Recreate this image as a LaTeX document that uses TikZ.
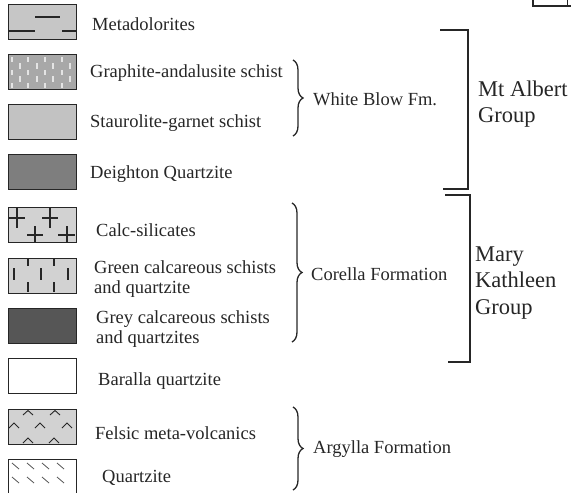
\documentclass[tikz,border=0pt]{standalone}
\usepackage{fontspec}
\setmainfont{Liberation Serif}
\usetikzlibrary{decorations.pathreplacing}
\definecolor{ink}{HTML}{262626}
\definecolor{fA}{HTML}{C6C6C6}
\definecolor{fB}{HTML}{A8A8A8}
\definecolor{fC}{HTML}{C2C2C2}
\definecolor{fD}{HTML}{7E7E7E}
\definecolor{fE}{HTML}{D2D2D2}
\definecolor{fG}{HTML}{565656}
\definecolor{dash}{HTML}{E4E4E4}
\tikzset{
  legbox/.style={draw=ink, line width=1.4pt, minimum width=68pt, minimum height=35pt, inner sep=0pt, anchor=north west},
  lab/.style={anchor=west, inner sep=0pt, text=ink, font=\fontsize{18.5}{20.5}\selectfont, align=left},
  grp/.style={anchor=west, inner sep=0pt, text=ink, font=\fontsize{22.5}{26.5}\selectfont, align=left},
  sym/.style={draw=ink, line width=1.2pt},
  gdash/.style={draw=dash, line width=1.3pt},
  cbrace/.style={draw=ink, line width=1.3pt, decorate, decoration={brace, amplitude=10pt}},
  bracket/.style={draw=ink, line width=1.5pt}
}
\begin{document}
\begin{tikzpicture}[x=1pt, y=-1pt]
\useasboundingbox (0,0) rectangle (571,493);
% top-right partial frame
\draw[bracket] (533,-4) -- (533,6) -- (575,6);
\draw[draw=ink, line width=0.8pt] (567,-4) -- (567,6);

% legend boxes
\node[legbox, fill=fA] (b1) at (8,4) {};
\node[legbox, fill=fB] (b2) at (8,54) {};
\node[legbox, fill=fC] (b3) at (8,104) {};
\node[legbox, fill=fD] (b4) at (8,154) {};
\node[legbox, fill=fE] (b5) at (8,207) {};
\node[legbox, fill=fE] (b6) at (8,258) {};
\node[legbox, fill=fG] (b7) at (8,308) {};
\node[legbox, fill=white] (b8) at (8,358) {};
\node[legbox, fill=fE] (b9) at (8,409) {};
\node[legbox, fill=white] (b10) at (8,459) {};

% box 1: metadolerite dashes
\draw[sym] (35,17) -- (60,17);
\draw[sym] (8,31) -- (35,31);
\draw[sym] (62,31) -- (76,31);

% box 2: graphite-andalusite light dashes
\foreach \x in {12,28,45,62} {
  \foreach \y in {57,70,83} \draw[gdash] (\x,\y) -- (\x,\y+5);
}
\foreach \x in {20,37,53,70} {
  \foreach \y in {63,76} \draw[gdash] (\x,\y) -- (\x,\y+6);
}

% box 5: crosses
\draw[sym] (9,218) -- (25,218) (17,208) -- (17,228);
\draw[sym] (42,218) -- (58,218) (50,208) -- (50,228);
\draw[sym] (27,235) -- (43,235) (35,226) -- (35,242);
\draw[sym] (58,235) -- (75,235) (67,226) -- (67,242);

% box 6: vertical ticks
\foreach \x in {28,54} \draw[sym] (\x,259) -- (\x,266);
\foreach \x in {14,41,68} \draw[sym] (\x,268) -- (\x,280);
\foreach \x in {28,54} \draw[sym] (\x,282) -- (\x,292);

% box 9: chevrons
\foreach \x in {28,55} \draw[draw=ink, line width=0.9pt] (\x-5,415) -- (\x,410.5) -- (\x+5,415);
\foreach \x in {14,40,67} \draw[draw=ink, line width=0.9pt] (\x-5,428) -- (\x,423) -- (\x+5,428);
\foreach \x in {28,54} \draw[draw=ink, line width=0.9pt] (\x-5,443) -- (\x,438) -- (\x+5,443);

% box 10: diagonal ticks
\foreach \x in {12,27,42,57} \draw[draw=ink!80, line width=0.8pt] (\x,463) -- (\x+7,469);
\foreach \x in {12,27,42,57} \draw[draw=ink!80, line width=0.8pt] (\x,477) -- (\x+7,483);

% labels
\node[lab] (t1) at (92,24) {Metadolorites};
\node[lab] (t2) at (90,73) {Graphite-andalusite schist};
\node[lab] (t3) at (90,123) {Staurolite-garnet schist};
\node[lab] (t4) at (90,174) {Deighton Quartzite};
\node[lab] (t5) at (96,230) {Calc-silicates};
\node[lab] (t6) at (94,279) {Green calcareous schists\\and quartzite};
\node[lab] (t7) at (96,329) {Grey calcareous schists\\and quartzites};
\node[lab] (t8) at (98,381) {Baralla quartzite};
\node[lab] (t9) at (95,433) {Felsic meta-volcanics};
\node[lab] (t10) at (102,478) {Quartzite};

% formation braces
\coordinate (w1) at (293,60);
\coordinate (w2) at (293,136);
\draw[cbrace] (w1) -- (w2);
\node[lab] (wb) at (313,99) {White Blow Fm.};

\coordinate (c1) at (292,203);
\coordinate (c2) at (292,342);
\draw[cbrace] (c1) -- (c2);
\node[lab] (cf) at (311,274) {Corella Formation};

\coordinate (a1) at (293,407);
\coordinate (a2) at (293,490);
\draw[cbrace] (a1) -- (a2);
\node[lab] (af) at (313,449) {Argylla Formation};

% group brackets
\coordinate (m1) at (440,30);
\coordinate (m2) at (468,30);
\coordinate (m3) at (468,189);
\coordinate (m4) at (443,189);
\draw[bracket] (m1) -- (m2) -- (m3) -- (m4);
\node[grp] (mag) at (478,104) {Mt Albert\\Group};

\coordinate (k1) at (445,195);
\coordinate (k2) at (470,195);
\coordinate (k3) at (470,362);
\coordinate (k4) at (448,362);
\draw[bracket] (k1) -- (k2) -- (k3) -- (k4);
\node[grp] (mkg) at (475,283) {Mary\\Kathleen\\Group};
\end{tikzpicture}
\end{document}
